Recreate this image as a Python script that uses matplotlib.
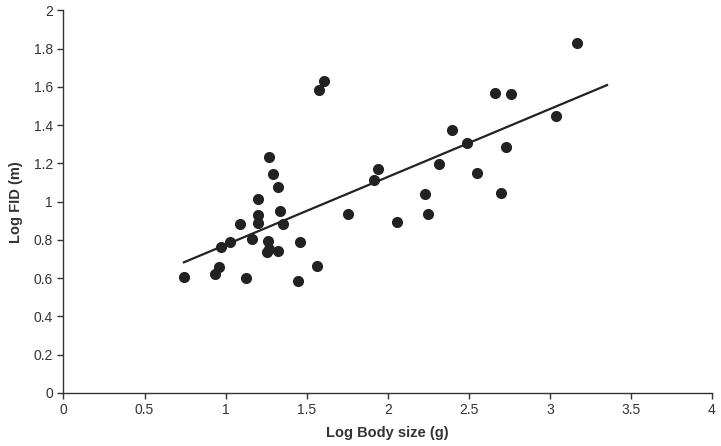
import matplotlib.pyplot as plt
import numpy as np

plt.rcParams['font.family'] = ['Liberation Sans', 'DejaVu Sans']

# Log body size (g) vs log FID (m)
body = [0.743, 0.935, 0.957, 1.124, 0.970, 1.025, 1.091, 1.163, 1.200, 1.200,
        1.200, 1.268, 1.292, 1.323, 1.333, 1.356, 1.264, 1.253, 1.266, 1.321,
        1.457, 1.445, 1.564, 1.578, 1.605, 1.757, 1.915, 1.938, 2.055, 2.395,
        2.489, 2.730, 2.318, 2.553, 2.228, 2.251, 2.697, 3.038, 3.166, 2.660,
        2.759]
fid = [0.605, 0.622, 0.659, 0.600, 0.765, 0.789, 0.882, 0.805, 1.012, 0.930,
       0.887, 1.234, 1.146, 1.078, 0.953, 0.885, 0.793, 0.735, 0.751, 0.744,
       0.788, 0.585, 0.664, 1.586, 1.629, 0.937, 1.112, 1.171, 0.894, 1.373,
       1.307, 1.288, 1.199, 1.152, 1.039, 0.937, 1.045, 1.446, 1.831, 1.570,
       1.565]

# regression line ends
fit_x = [0.743, 3.353]
fit_y = [0.683, 1.610]

fig = plt.figure(figsize=(7.21, 4.46), dpi=100)
ax = fig.add_axes([0.088, 0.119, 0.8995, 0.8575])

ax.plot(fit_x, fit_y, color='#222222', lw=1.6, zorder=2)
ax.plot(body, fid, 'o', color='#222222', markersize=7, zorder=3)

ax.set_xlim(0, 4)
ax.set_ylim(0, 2)
ax.set_xticks(np.arange(0, 4.01, 0.5))
ax.set_xticklabels(['0', '0.5', '1', '1.5', '2', '2.5', '3', '3.5', '4'])
ax.set_yticks(np.arange(0, 2.01, 0.2))
ax.set_yticklabels(['0', '0.2', '0.4', '0.6', '0.8', '1', '1.2', '1.4', '1.6', '1.8', '2'])

for s in ['top', 'right']:
    ax.spines[s].set_visible(False)
for s in ['left', 'bottom']:
    ax.spines[s].set_color('#333333')
    ax.spines[s].set_linewidth(1.0)

ax.tick_params(direction='out', length=4, width=1, color='#333333',
               labelsize=10, labelcolor='#333333')
ax.set_xlabel('Log Body size (g)', fontsize=10.5, fontweight='bold', color='#333333', labelpad=6)
ax.set_ylabel('Log FID (m)', fontsize=10.5, fontweight='bold', color='#333333', labelpad=8)

fig.savefig('out.png', dpi=100)
